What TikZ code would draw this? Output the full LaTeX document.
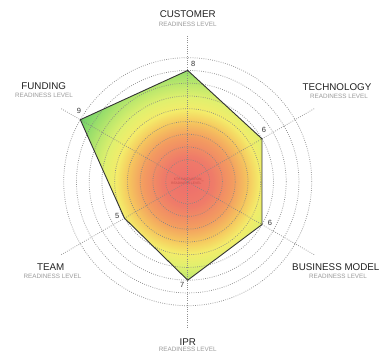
\documentclass[tikz,border=0pt]{standalone}
\usepackage{fontspec}
\setmainfont{Liberation Sans}
\definecolor{c0}{HTML}{EE6E6C}
\definecolor{c1}{HTML}{EF7B69}
\definecolor{c2}{HTML}{F39C60}
\definecolor{c3}{HTML}{F5C65E}
\definecolor{c4}{HTML}{F4EC6A}
\definecolor{c5}{HTML}{E0F06E}
\definecolor{c6}{HTML}{B6E66C}
\definecolor{c7}{HTML}{88D96A}
\definecolor{c8}{HTML}{70CF69}
\definecolor{titlecol}{HTML}{222222}
\definecolor{subcol}{HTML}{9A9A9A}
\definecolor{gridcol}{HTML}{858585}
\definecolor{numcol}{HTML}{333333}
\definecolor{centercol}{HTML}{C4504A}
\pgfdeclareradialshading{irl}{\pgfpoint{0bp}{0bp}}{%
 color(0bp)=(c0); color(4.8bp)=(c1); color(8.65bp)=(c2); color(11.5bp)=(c3);
 color(13.8bp)=(c4); color(16.3bp)=(c5); color(19.2bp)=(c6); color(22.1bp)=(c7);
 color(24bp)=(c8); color(50bp)=(c8)}
\tikzset{
  grid/.style={gridcol, opacity=0.9, line width=0.75pt, dash pattern=on 0.75pt off 1.45pt},
  outline/.style={draw=numcol, line width=0.9pt, line join=miter},
  axislabel/.style={align=center, inner sep=0pt, font=\fontsize{9.8}{10}\selectfont, text=titlecol},
  sublabel/.style={inner sep=0pt, font=\fontsize{6.3}{7}\selectfont, text=subcol},
  numlabel/.style={inner sep=0pt, font=\fontsize{7.5}{8}\selectfont, text=numcol},
  centerlabel/.style={align=center, inner sep=0pt, font=\fontsize{3.3}{4.2}\selectfont, text=centercol}
}
\begin{document}
\begin{tikzpicture}[x=1pt,y=1pt]
\useasboundingbox[fill=white] (-187.7,-173.3) rectangle (197.3,181.7);
\coordinate (O) at (0,0);
% vertices: r(L) = 9.25 + 12.75 L
\coordinate (vC) at (90:111.25);
\coordinate (vT) at (30:85.75);
\coordinate (vB) at (-30:85.75);
\coordinate (vI) at (-90:98.5);
\coordinate (vM) at (-150:73);
\coordinate (vF) at (150:124);
% gradient fill
\begin{scope}
  \clip (vC) -- (vT) -- (vB) -- (vI) -- (vM) -- (vF) -- cycle;
  \shade[shading=irl] (O) circle (130);
\end{scope}
% grid circles
\foreach \k in {1,...,9} {
  \draw[grid] (O) circle ({9.25+12.75*\k});
}
% axes
\foreach \a/\n in {90/aC,30/aT,-30/aB,-90/aI,-150/aM,150/aF} {
  \coordinate (\n) at (\a:147);
  \draw[grid] (O) -- (\n);
}
% polygon outline
\draw[outline] (vC) -- (vT) -- (vB) -- (vI) -- (vM) -- (vF) -- cycle;
% center text
\node[centerlabel] (ctr) at (0,0) {KTH INNOVATION\\READINESS LEVEL\textsuperscript{™}};
% numbers
\node[numlabel] (n8) at (5.6,117.4) {8};
\node[numlabel] (n6t) at (76.3,51.7) {6};
\node[numlabel] (n6b) at (82.3,-41) {6};
\node[numlabel] (n7) at (-5.4,-103.3) {7};
\node[numlabel] (n5) at (-70.4,-34) {5};
\node[numlabel] (n9) at (-108.7,70.7) {9};
% axis labels
\node[axislabel] (tC) at (0,167.7) {CUSTOMER};
\node[sublabel] (sC) at (0,157.7) {READINESS LEVEL};
\node[axislabel] (tT) at (149.3,95) {TECHNOLOGY};
\node[sublabel] (sT) at (151.3,85.7) {READINESS LEVEL};
\node[axislabel] (tB) at (148.1,-85.6) {BUSINESS MODEL};
\node[sublabel] (sB) at (150.3,-94.8) {READINESS LEVEL};
\node[axislabel] (tI) at (0,-160) {IPR};
\node[sublabel] (sI) at (0,-167.3) {READINESS LEVEL};
\node[axislabel] (tM) at (-136.9,-85.6) {TEAM};
\node[sublabel] (sM) at (-135.2,-94.3) {READINESS LEVEL};
\node[axislabel] (tF) at (-144,95.4) {FUNDING};
\node[sublabel] (sF) at (-143.7,86.2) {READINESS LEVEL};
\end{tikzpicture}
\end{document}
